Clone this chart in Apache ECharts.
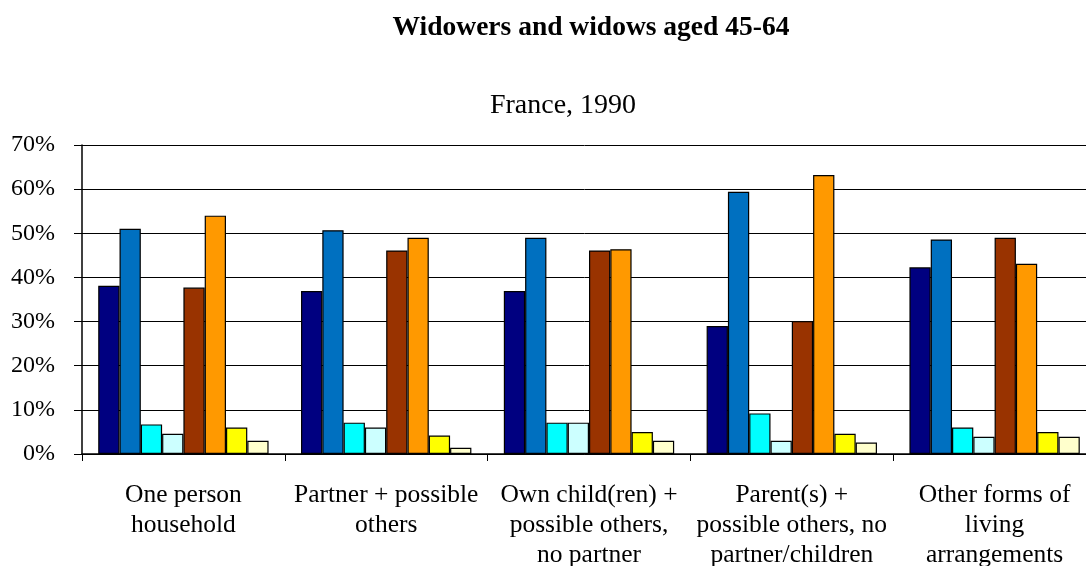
<!DOCTYPE html>
<html>
<head>
<meta charset="utf-8">
<script src="https://cdn.jsdelivr.net/npm/echarts@6/dist/echarts.min.js"></script>
<style>html,body{margin:0;padding:0;background:#fff}#c{width:1086px;height:566px}</style>
</head>
<body>
<div id="c"></div>
<script>
const categories = [
  'One person\nhousehold',
  'Partner + possible\nothers',
  'Own child(ren) +\npossible others,\nno partner',
  'Parent(s) +\npossible others, no\npartner/children',
  'Other forms of\nliving\narrangements'
];
const yTicks = [0, 10, 20, 30, 40, 50, 60, 70];
const s1 = [38.1, 36.9, 36.9, 29.0, 42.3];
const s2 = [51.0, 50.7, 49.0, 59.4, 48.6];
const s3 = [6.7, 7.1, 7.1, 9.2, 6.0];
const s4 = [4.6, 6.0, 7.1, 3.0, 3.9];
const s5 = [37.7, 46.1, 46.1, 30.1, 49.0];
const s6 = [54.0, 49.0, 46.4, 63.2, 43.1];
const s7 = [6.0, 4.2, 5.0, 4.6, 5.0];
const s8 = [3.0, 1.4, 3.0, 2.6, 3.9];
const seriesNames = ['Series 1','Series 2','Series 3','Series 4','Series 5','Series 6','Series 7','Series 8'];
const seriesData = [s1, s2, s3, s4, s5, s6, s7, s8];
const colors = ['#000080','#0070C0','#00FFFF','#CCFFFF','#993300','#FF9900','#FFFF00','#FFFFCC'];

const FONT = 'Liberation Serif';
const chart = echarts.init(document.getElementById('c'), null, {renderer: 'canvas'});
chart.setOption({
  animation: false,
  backgroundColor: '#fff',
  title: [
    {text: 'Widowers and widows aged 45-64', left: 586, top: 9, textAlign: 'center',
     textStyle: {fontFamily: FONT, fontSize: 27.5, fontWeight: 'bold', color: '#000'}},
    {text: 'France, 1990', left: 558, top: 87, textAlign: 'center',
     textStyle: {fontFamily: FONT, fontSize: 28, fontWeight: 'normal', color: '#000'}}
  ],
  grid: {left: 82, width: 1014, top: 145, height: 309, outerBoundsMode: 'none', containLabel: false},
  xAxis: {
    type: 'category',
    data: categories,
    axisLine: {lineStyle: {color: '#000', width: 1.5}},
    axisTick: {show: true, length: 7, lineStyle: {color: '#000'}},
    axisLabel: {interval: 0, fontFamily: FONT, fontSize: 25.5, color: '#000', lineHeight: 30, margin: 26}
  },
  yAxis: {
    type: 'value',
    min: yTicks[0], max: yTicks[yTicks.length - 1], interval: 10,
    axisLine: {show: true, lineStyle: {color: '#000', width: 1.5}},
    axisTick: {show: true, length: 8, lineStyle: {color: '#000'}},
    axisLabel: {formatter: '{value}%', fontFamily: FONT, fontSize: 24, color: '#000', margin: 27},
    splitLine: {show: true, lineStyle: {color: '#000', width: 1}}
  },
  series: seriesData.map((d, i) => ({
    name: seriesNames[i],
    type: 'bar',
    data: d,
    barGap: '0%',
    barCategoryGap: '16%',
    itemStyle: {color: colors[i], borderColor: '#000', borderWidth: 1.2}
  }))
});
</script>
</body>
</html>
